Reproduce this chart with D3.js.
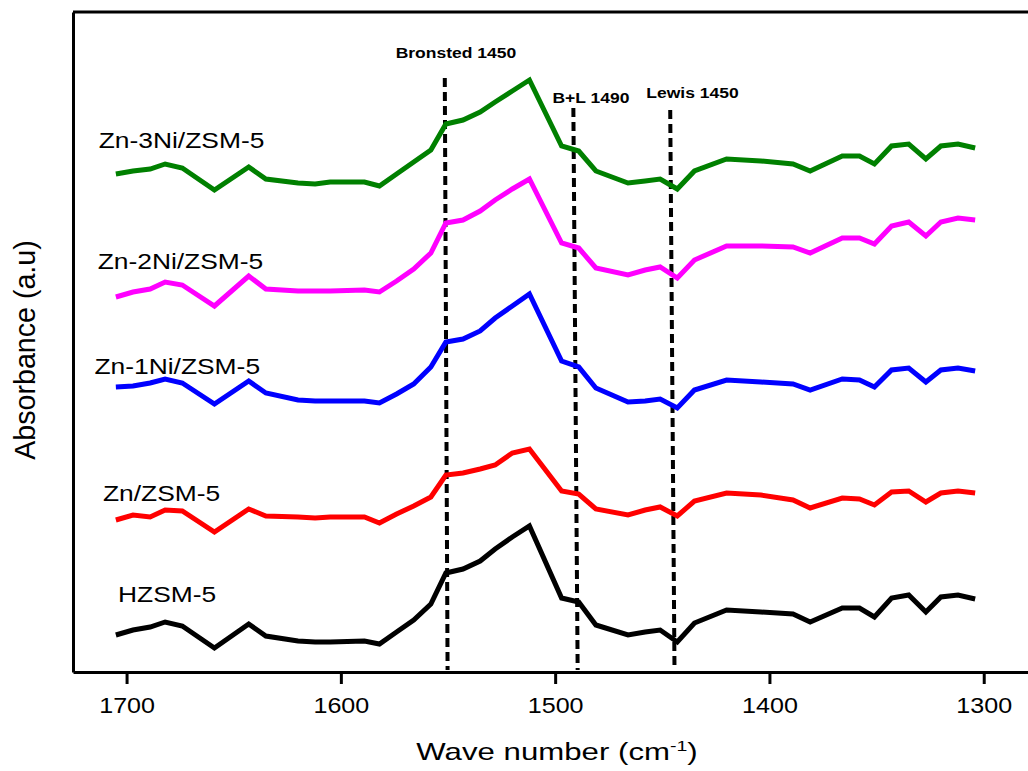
<!DOCTYPE html>
<html>
<head>
<meta charset="utf-8">
<script src="https://cdn.jsdelivr.net/npm/d3@7"></script>
<style>
  html, body { margin: 0; padding: 0; background: #fff; }
  svg { display: block; font-family: "Liberation Sans", Arial, sans-serif; }
</style>
</head>
<body>
<div id="chart"></div>
<script>
// wave numbers (cm-1) of the digitised vertices, shared by every spectrum
const waveNumbers = [1705, 1697, 1689, 1682, 1674, 1659, 1643, 1635, 1620, 1612, 1605, 1589, 1582, 1574, 1566,
  1558, 1551, 1543, 1535, 1528, 1520, 1512, 1497, 1489, 1481, 1466, 1458, 1451, 1443, 1435, 1420, 1404, 1389,
  1381, 1366, 1358, 1351, 1343, 1335, 1327, 1320, 1312, 1304];

// absorbance (a.u., stacked offsets as in the figure)
const hzsm5 = [0.37, 0.42, 0.45, 0.50, 0.46, 0.24, 0.48, 0.36, 0.31, 0.30, 0.30, 0.31, 0.28, 0.40, 0.52,
  0.68, 0.99, 1.03, 1.11, 1.23, 1.35, 1.46, 0.74, 0.70, 0.47, 0.37, 0.40, 0.42, 0.30, 0.49, 0.62, 0.60, 0.58,
  0.50, 0.64, 0.64, 0.55, 0.74, 0.77, 0.60, 0.75, 0.77, 0.73];
const znZsm5 = [1.52, 1.57, 1.55, 1.62, 1.61, 1.40, 1.63, 1.56, 1.55, 1.54, 1.55, 1.55, 1.49, 1.58, 1.66,
  1.75, 1.97, 1.99, 2.03, 2.07, 2.19, 2.23, 1.81, 1.78, 1.63, 1.57, 1.62, 1.65, 1.56, 1.71, 1.79, 1.77, 1.72,
  1.64, 1.74, 1.73, 1.67, 1.80, 1.81, 1.70, 1.79, 1.81, 1.79];
const zn1Ni = [2.85, 2.86, 2.89, 2.93, 2.89, 2.68, 2.91, 2.79, 2.72, 2.71, 2.71, 2.71, 2.69, 2.78, 2.88,
  3.05, 3.30, 3.33, 3.41, 3.54, 3.66, 3.78, 3.11, 3.05, 2.84, 2.70, 2.71, 2.73, 2.64, 2.82, 2.92, 2.90, 2.88,
  2.82, 2.93, 2.92, 2.85, 3.02, 3.04, 2.90, 3.02, 3.04, 3.01];
const zn2Ni = [3.75, 3.80, 3.83, 3.90, 3.87, 3.66, 3.96, 3.83, 3.81, 3.81, 3.81, 3.82, 3.80, 3.91, 4.03,
  4.19, 4.49, 4.52, 4.61, 4.72, 4.83, 4.93, 4.29, 4.24, 4.04, 3.97, 4.02, 4.05, 3.94, 4.12, 4.26, 4.26, 4.25,
  4.19, 4.34, 4.34, 4.28, 4.46, 4.50, 4.36, 4.50, 4.54, 4.52];
const zn3Ni = [4.98, 5.01, 5.03, 5.08, 5.04, 4.82, 5.05, 4.93, 4.89, 4.88, 4.90, 4.90, 4.86, 4.98, 5.10,
  5.22, 5.48, 5.52, 5.60, 5.70, 5.81, 5.92, 5.26, 5.21, 5.01, 4.89, 4.91, 4.93, 4.83, 5.01, 5.13, 5.11, 5.08,
  5.01, 5.16, 5.16, 5.08, 5.26, 5.28, 5.13, 5.26, 5.28, 5.24];

const seriesNames = ["HZSM-5", "Zn/ZSM-5", "Zn-1Ni/ZSM-5", "Zn-2Ni/ZSM-5", "Zn-3Ni/ZSM-5"];
const seriesValues = [hzsm5, znZsm5, zn1Ni, zn2Ni, zn3Ni];
const seriesColors = ["#000000", "#ff0000", "#0000ff", "#ff00ff", "#008000"];
// where each name sits: [wave number of text start, absorbance of baseline]
const labelAnchors = [[1704, 0.70], [1711, 1.71], [1715, 2.98], [1713.5, 4.03], [1713, 5.24]];

const xTicks = [1700, 1600, 1500, 1400, 1300];

// dashed markers: label, wave number at top, wave number at bottom, top absorbance, label anchor
const markerNames = ["Bronsted 1450", "B+L 1490", "Lewis 1450"];
const markerTopWave = [1551.5, 1491.5, 1446.3];
const markerBottomWave = [1550.2, 1489.5, 1444.3];
const markerTopValue = [5.94, 5.64, 5.62];
const markerLabelPos = [[1546.3, 6.14], [1483.3, 5.69], [1435.9, 5.74]];

const width = 1028;
const height = 771;

const svg = d3.select("#chart").append("svg")
  .attr("width", width)
  .attr("height", height);

const x = d3.scaleLinear().domain([1725, 1275]).range([73, 1037.3]);
const y = d3.scaleLinear().domain([0, 6.6]).range([672, 12]);

const stretched = (g, px, py, str, size, sx, anchor, weight) =>
  g.append("text")
    .attr("transform", `translate(${px},${py}) scale(${sx},1)`)
    .attr("text-anchor", anchor)
    .style("font-size", size + "px")
    .style("font-weight", weight || "normal")
    .attr("fill", "#000")
    .text(str);

// frame: top border
svg.append("line")
  .attr("x1", x(1725)).attr("x2", x(1275))
  .attr("y1", y(6.6)).attr("y2", y(6.6))
  .attr("stroke", "#000").attr("stroke-width", 3);

// left axis, no ticks
svg.append("g")
  .attr("transform", `translate(${x(1725)},0)`)
  .call(d3.axisLeft(y).tickValues([]).tickSizeOuter(0))
  .call((g) => g.select(".domain").attr("stroke-width", 3));

// bottom axis
svg.append("g")
  .attr("transform", `translate(0,${y(0)})`)
  .call(d3.axisBottom(x).tickValues(xTicks).tickSize(12).tickSizeOuter(0).tickFormat(d3.format("d")))
  .call((g) => g.select(".domain").attr("stroke-width", 3))
  .call((g) => g.selectAll(".tick line").attr("stroke-width", 3))
  .call((g) =>
    g.selectAll(".tick text")
      .attr("y", 41)
      .attr("dy", 0)
      .attr("transform", "scale(1.14,1)")
      .style("font-size", "22px")
      .style("font-family", "'Liberation Sans', Arial, sans-serif")
      .attr("fill", "#000")
  );

// dashed reference lines
svg.append("g")
  .selectAll("line")
  .data(markerNames)
  .join("line")
  .attr("x1", (d, i) => x(markerTopWave[i]))
  .attr("x2", (d, i) => x(markerBottomWave[i]))
  .attr("y1", (d, i) => y(markerTopValue[i]))
  .attr("y2", y(0) - 2)
  .attr("stroke", "#000")
  .attr("stroke-width", 4)
  .attr("stroke-dasharray", "9,5");

const markerLabels = svg.append("g");
markerNames.forEach((name, i) => {
  stretched(markerLabels, x(markerLabelPos[i][0]), y(markerLabelPos[i][1]), name, 15.5, 1.13, "middle", "bold");
});

// spectra
const line = d3.line()
  .x((d) => x(d[0]))
  .y((d) => y(d[1]));

svg.append("g")
  .selectAll("path")
  .data(seriesValues)
  .join("path")
  .attr("d", (vals) => line(vals.map((v, i) => [waveNumbers[i], v])))
  .attr("fill", "none")
  .attr("stroke", (d, i) => seriesColors[i])
  .attr("stroke-width", 5);

const seriesLabels = svg.append("g");
seriesNames.forEach((name, i) => {
  stretched(seriesLabels, x(labelAnchors[i][0]), y(labelAnchors[i][1]), name, 22, 1.2, "start");
});

// axis titles
const xTitle = svg.append("text")
  .attr("transform", "translate(557,760) scale(1.3,1)")
  .attr("text-anchor", "middle")
  .style("font-size", "24px")
  .attr("fill", "#000");
xTitle.append("tspan").text("Wave number (cm");
xTitle.append("tspan").attr("dy", -9).style("font-size", "15px").text("-1");
xTitle.append("tspan").attr("dy", 9).text(")");

svg.append("text")
  .attr("transform", "translate(35,350) rotate(-90) scale(1.06,1.12)")
  .attr("text-anchor", "middle")
  .style("font-size", "27px")
  .attr("fill", "#000")
  .text("Absorbance (a.u)");
</script>
</body>
</html>
